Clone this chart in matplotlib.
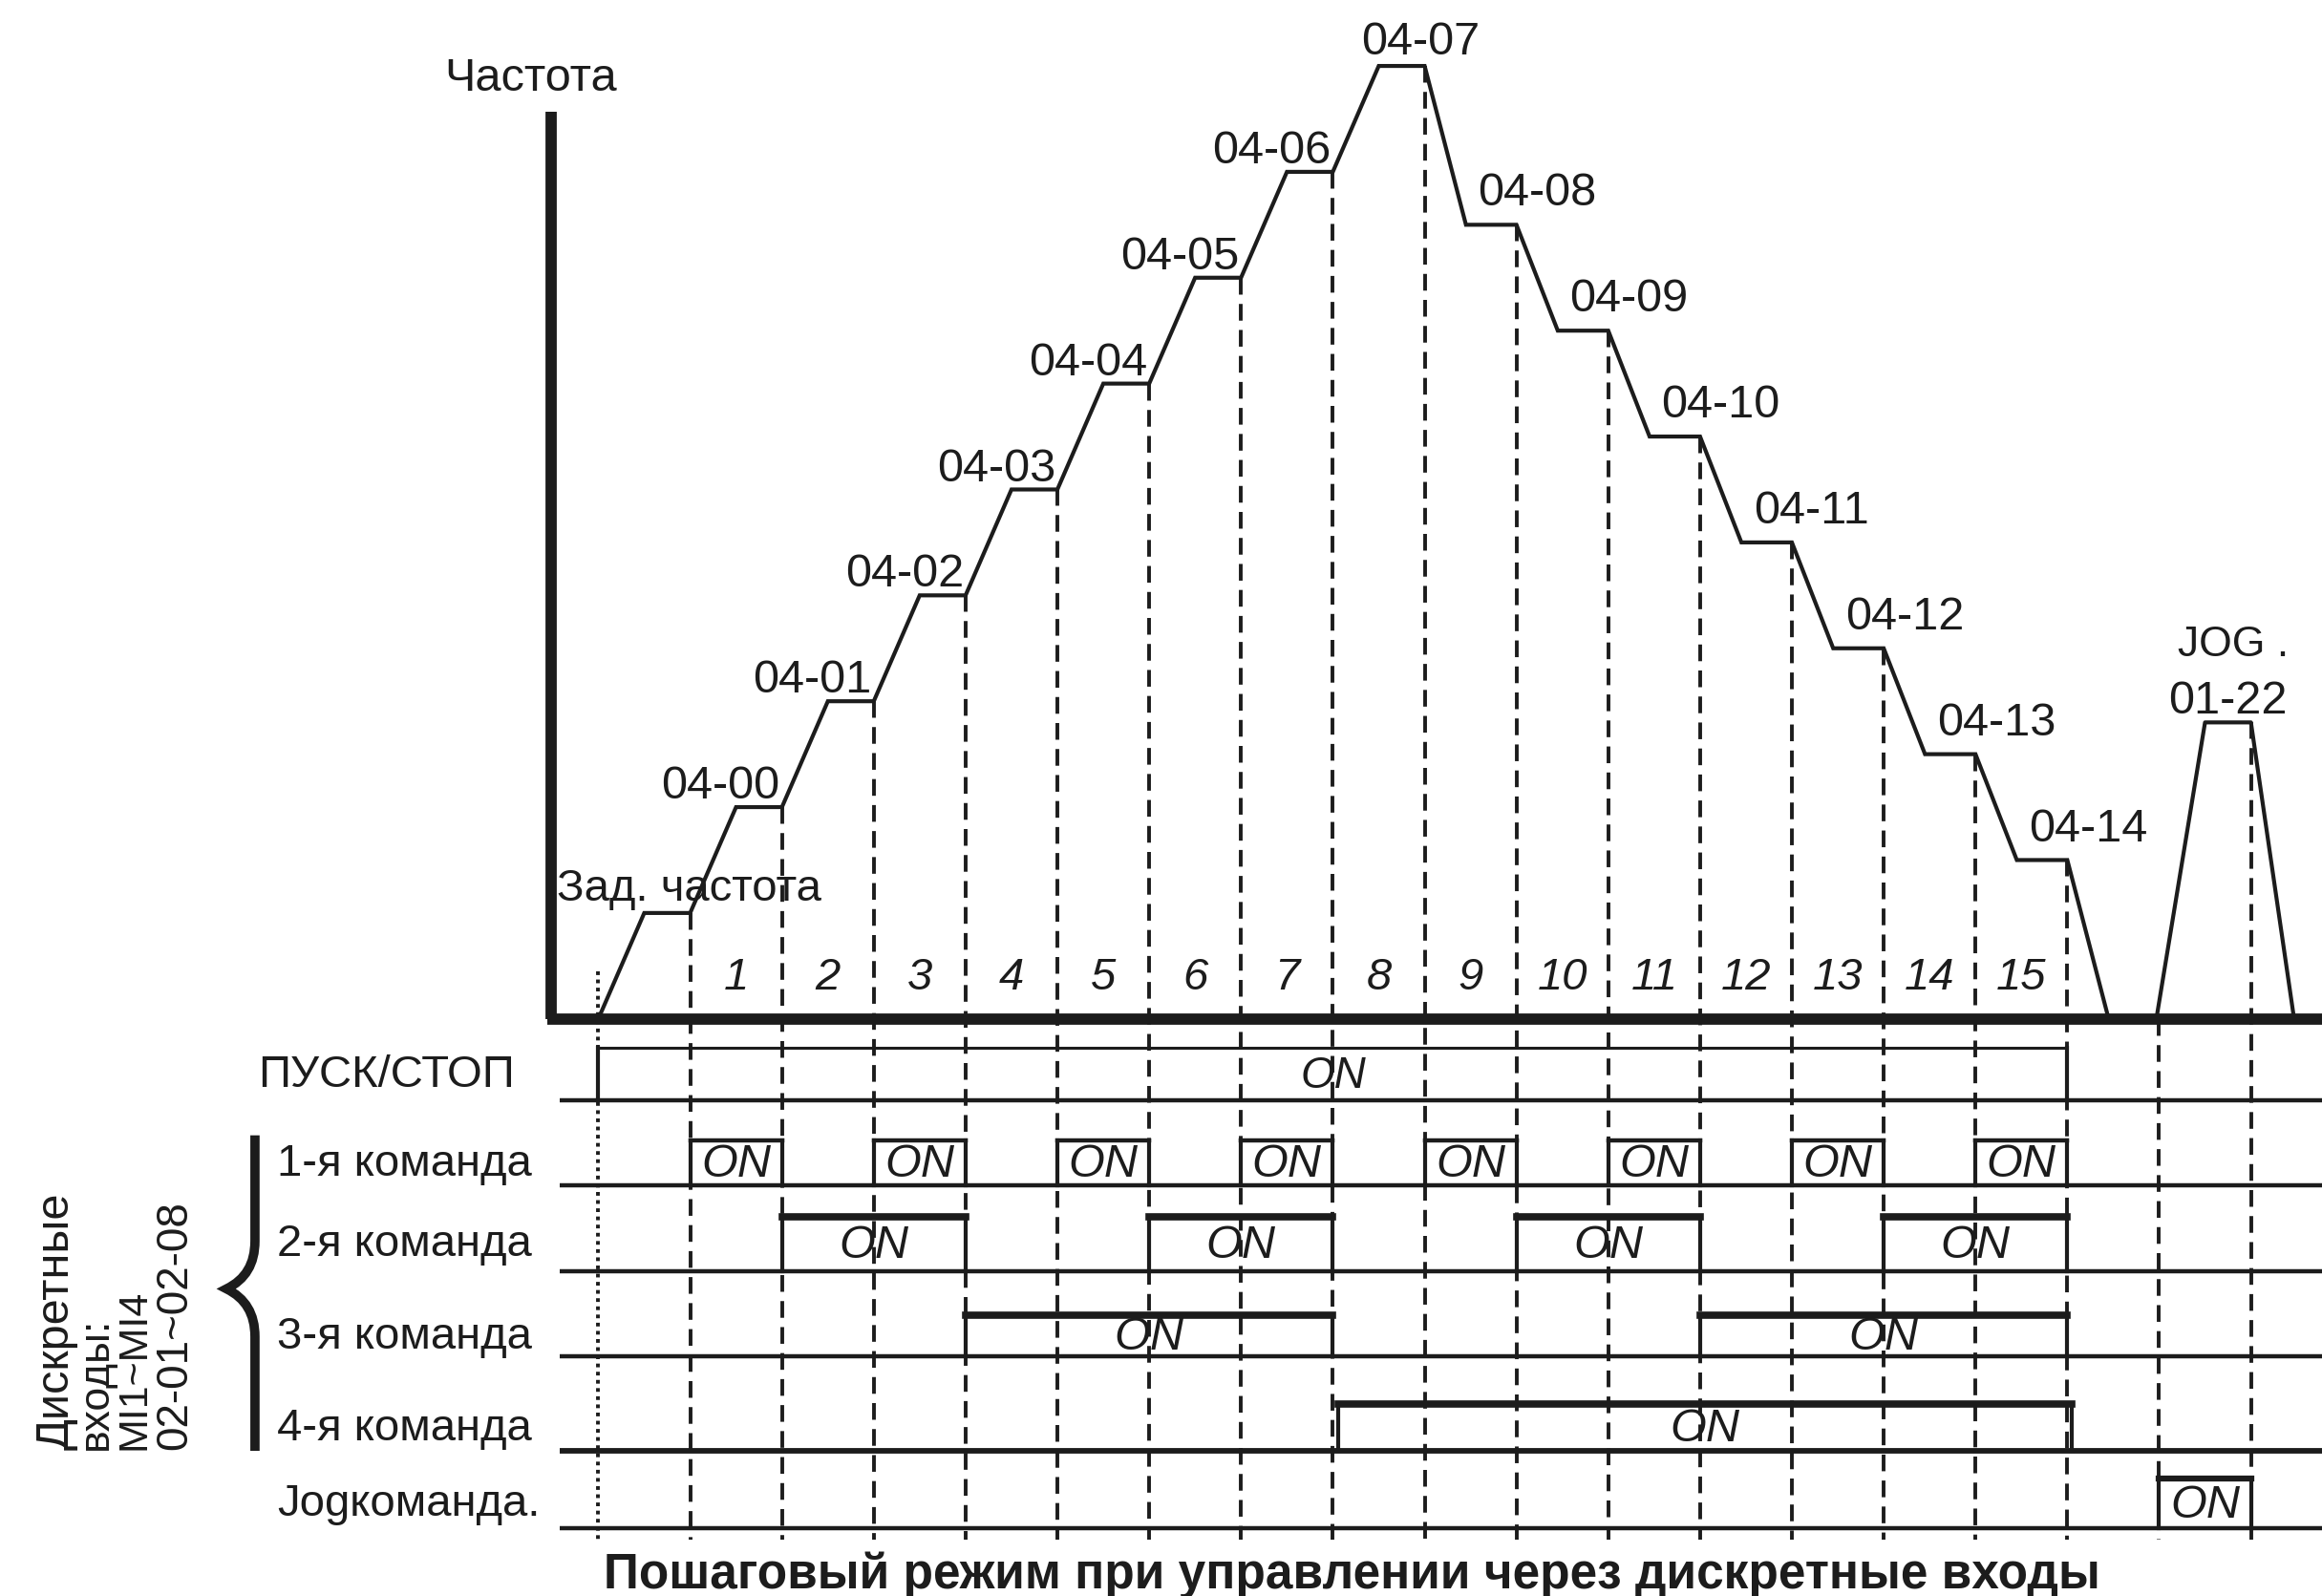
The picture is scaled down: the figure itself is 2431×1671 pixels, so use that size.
import matplotlib.pyplot as plt
from matplotlib.path import Path
from matplotlib.patches import PathPatch

plt.rcParams['font.family'] = ['Liberation Sans', 'DejaVu Sans']

# frequency plateaus, one per step (time unit = one step, frequency unit = one level)
level_labels = ["Зад. частота", "04-00", "04-01", "04-02", "04-03", "04-04", "04-05",
                "04-06", "04-07", "04-08", "04-09", "04-10", "04-11", "04-12",
                "04-13", "04-14"]
level_values = [1.0, 2.0, 3.0, 4.0, 5.0, 6.0, 7.0, 8.0, 9.0,
                7.5, 6.5, 5.5, 4.5, 3.5, 2.5, 1.5]
step_numbers = [str(i) for i in range(1, 16)]

jog_labels = ["JOG .", "01-22"]
jog_level = 2.8
jog_times = [16.97, 17.5, 18.0, 18.47]

# ON intervals of each input, in steps
row_names = ["ПУСК/СТОП", "1-я команда", "2-я команда", "3-я команда",
             "4-я команда", "Jogкоманда."]
run_on = [(0, 16)]
cmd1_on = [(1, 2), (3, 4), (5, 6), (7, 8), (9, 10), (11, 12), (13, 14), (15, 16)]
cmd2_on = [(2, 4), (6, 8), (10, 12), (14, 16)]
cmd3_on = [(4, 8), (12, 16)]
cmd4_on = [(8.06, 16.05)]
jog_on = [(17, 18)]
rows_on = [run_on, cmd1_on, cmd2_on, cmd3_on, cmd4_on, jog_on]

side_labels = ["Дискретные", "входы:", "MI1~MI4", "02-01~02-08"]
title = "Пошаговый режим при управлении через дискретные входы"

# layout
row_base = [-0.77, -1.57, -2.38, -3.19, -4.08, -4.81]
row_top = [-0.273, -1.15, -1.87, -2.80, -3.64, -4.34]
top_lw = [2.2, 3.2, 5.5, 5.5, 5.5, 4.5]
ink = '#1c1c1c'

fig = plt.figure(figsize=(24.31, 16.71), dpi=100)
ax = fig.add_axes([0, 0, 1, 1])
ax.set_xlim(-6.517, 18.774)
ax.set_ylim(-5.451, 9.623)
ax.axis('off')

# frequency profile
ft, fv = [0.0], [0.0]
prev = 0.0
for i, lv in enumerate(level_values):
    ramp = 0.5 if lv > prev else 0.45
    ft += [i + ramp, i + 1]
    fv += [lv, lv]
    prev = lv
ft.append(16.45)
fv.append(0.0)
ax.plot(ft, fv, color=ink, lw=3.0, solid_joinstyle='miter', zorder=3)
ax.plot(jog_times, [0, jog_level, jog_level, 0], color=ink, lw=3.0, zorder=3)

# axes of the diagram
ax.plot([-0.516, -0.516], [0, 8.57], color=ink, lw=8.5, solid_capstyle='butt', zorder=4)
ax.plot([-0.56, 18.8], [0, 0], color=ink, lw=8.5, solid_capstyle='butt', zorder=4)
ax.text(-0.74, 8.88, "Частота", fontsize=35, color=ink, ha='center', va='center')

# vertical step markers
bottom = -4.92
ax.plot([0, 0], [0.45, bottom], color=ink, lw=2.8, ls=(0, (1.0, 1.2)), zorder=2)
for k in range(1, 17):
    ax.plot([k, k], [level_values[k - 1], bottom], color=ink, lw=2.8,
            ls=(0, (4.5, 2.5)), zorder=2)
ax.plot([17, 17], [0, bottom], color=ink, lw=2.8, ls=(0, (4.5, 2.5)), zorder=2)
ax.plot([18, 18], [jog_level, bottom], color=ink, lw=2.8, ls=(0, (4.5, 2.5)), zorder=2)

# level labels
ax.text(-0.45, 1.12, level_labels[0], fontsize=34, color=ink, ha='left', va='baseline')
for i in range(1, 8):
    ax.text(i + 0.98, level_values[i] + 0.08, level_labels[i], fontsize=35,
            color=ink, ha='right', va='baseline')
ax.text(8.96, level_values[8] + 0.11, level_labels[8], fontsize=35, color=ink,
        ha='center', va='baseline')
for i in range(9, 16):
    ax.text(i + 0.58, level_values[i] + 0.18, level_labels[i], fontsize=35,
            color=ink, ha='left', va='baseline')
ax.text(17.20, 3.425, jog_labels[0], fontsize=32, color=ink, ha='left', va='baseline')
ax.text(17.10, 2.884, jog_labels[1], fontsize=35, color=ink, ha='left', va='baseline')

for j, s in enumerate(step_numbers):
    ax.text(j + 1.5, 0.39, s, fontsize=34, color=ink, style='italic',
            ha='center', va='center')

# timing rows
for r, (name, spans) in enumerate(zip(row_names, rows_on)):
    base, top = row_base[r], row_top[r]
    ax.plot([-0.42, 18.8], [base, base], color=ink, lw=3.2 if r != 4 else 4.2,
            solid_capstyle='butt', zorder=3)
    for a, b in spans:
        ax.plot([a, a], [base, top], color=ink, lw=3.0, zorder=3)
        ax.plot([b, b], [base, top], color=ink, lw=3.0, zorder=3)
        ax.plot([a, b], [top, top], color=ink, lw=top_lw[r],
                solid_capstyle='projecting', zorder=3)
        ax.text((a + b) / 2, (base + top) / 2 - 0.02, "ON",
                fontsize=33 if r == 0 else 35, color=ink,
                style='italic', ha='center', va='center')
    lx = -3.71 if r == 0 else -3.50
    ax.text(lx, (base + top) / 2 - 0.01, name, fontsize=34, color=ink,
            ha='left', va='center')

# brace grouping the four command inputs
bx, tip = -3.74, -4.05
verts = [(bx, -1.10), (bx, -2.10), (bx, -2.42), (tip, -2.55),
         (bx, -2.68), (bx, -3.00), (bx, -4.08)]
codes = [Path.MOVETO, Path.LINETO, Path.CURVE3, Path.CURVE3,
         Path.CURVE3, Path.CURVE3, Path.LINETO]
ax.add_patch(PathPatch(Path(verts, codes), fill=False, ec=ink, lw=7, capstyle='butt'))

for x, s, fs in zip([-5.775, -5.356, -4.937, -4.485], side_labels, [35, 32, 31, 33]):
    ax.text(x, -4.07, s, fontsize=fs, color=ink, rotation=90,
            rotation_mode='anchor', ha='left', va='baseline')

ax.text(8.204, -5.38, title, fontsize=37, fontweight='bold', color=ink,
        ha='center', va='baseline')

fig.savefig('out.png', dpi=100)
